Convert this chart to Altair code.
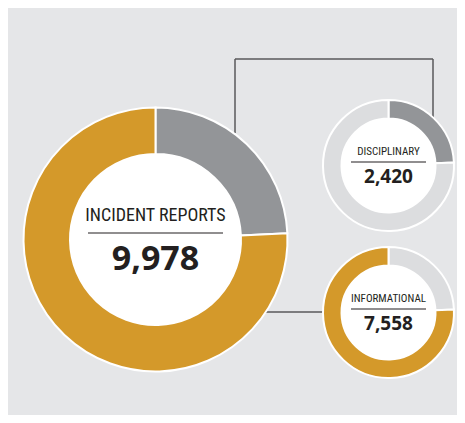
import altair as alt
import pandas as pd

# ---- data ----
categories = ["Disciplinary", "Informational"]
counts = [2420, 7558]
total_label = "INCIDENT REPORTS"
total_value = 9978
sub_labels = ["DISCIPLINARY", "INFORMATIONAL"]

# ---- styles / layout ----
W, H = 449, 407
BG = "#e5e6e8"
GOLD = "#d4992a"
GRAY = "#939598"
LIGHT = "#dcdddf"
INK = "#231f20"
LINE = "#58595b"
FONT_NARROW = "Roboto Condensed"
FONT_NUM = "Open Sans"

color_scale = alt.Scale(domain=["Disciplinary", "Informational", "Other"],
                        range=[GRAY, GOLD, LIGHT])


def donut(parts, cx, cy, r_out, r_in):
    df = pd.DataFrame({"part": parts, "value": counts, "idx": [0, 1]})
    ring = alt.Chart(df).mark_arc(outerRadius=r_out, innerRadius=r_in,
                                  stroke="white", strokeWidth=2).encode(
        theta=alt.Theta("value:Q", stack=True),
        color=alt.Color("part:N", scale=color_scale, legend=None),
        order=alt.Order("idx:Q"),
        x=alt.value(cx), y=alt.value(cy),
    )
    hole = alt.Chart(df.head(1)).mark_arc(outerRadius=r_in, innerRadius=0,
                                         theta=0, theta2=6.2832,
                                         color="white").encode(
        x=alt.value(cx), y=alt.value(cy))
    return [ring, hole]


def label(text, value, cx, base_label, base_num, size_l, size_n, rule_half, rule_y):
    df = pd.DataFrame({"label": [text], "value": [value]})
    t1 = alt.Chart(df).mark_text(font=FONT_NARROW, fontSize=size_l, color=INK,
                                 baseline="alphabetic", align="center").encode(
        text="label:N", x=alt.value(cx), y=alt.value(base_label))
    t2 = alt.Chart(df).mark_text(font=FONT_NUM, fontWeight="bold", fontSize=size_n,
                                 color=INK, baseline="alphabetic", align="center").encode(
        text=alt.Text("value:Q", format=","), x=alt.value(cx), y=alt.value(base_num))
    r = alt.Chart(df).mark_rule(color=INK, strokeWidth=1.2).encode(
        x=alt.value(cx - rule_half), x2=alt.value(cx + rule_half), y=alt.value(rule_y))
    return [t1, t2, r]


def seg(x1, y1, x2, y2):
    return alt.Chart(pd.DataFrame({"a": [0]})).mark_rule(color=LINE, strokeWidth=1.5).encode(
        x=alt.value(x1), x2=alt.value(x2), y=alt.value(y1), y2=alt.value(y2))


connectors = [
    seg(227, 51, 227, 125),
    seg(227, 51, 425, 51),
    seg(425, 51, 425, 110),
    seg(258, 304, 316, 304),
]

layers = connectors
layers += donut(["Disciplinary", "Informational"], 147.5, 231.5, 132, 85.5)
layers += donut(["Disciplinary", "Other"], 380.5, 157.5, 65.5, 47)
layers += donut(["Other", "Informational"], 380.5, 304.5, 65.5, 47)
layers += label(total_label, total_value, 147.5, 213, 262, 18, 34, 67.5, 225)
layers += label(sub_labels[0], counts[0], 380.5, 147, 174.5, 11, 19, 37.5, 154)
layers += label(sub_labels[1], counts[1], 380.5, 294, 322, 11, 19, 37.5, 301)

chart = alt.layer(*layers).properties(
    width=W, height=H, background=BG, padding=0,
    autosize=alt.AutoSizeParams(type="none"),
).configure_view(stroke=None)

chart.save("out.html", embed_options={"renderer": "svg", "actions": False})
